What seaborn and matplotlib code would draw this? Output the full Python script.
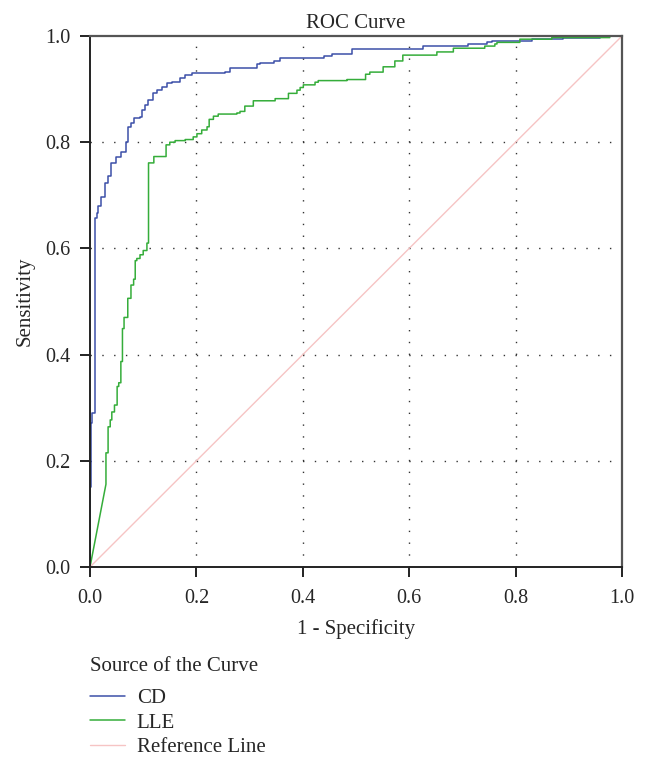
import numpy as np
import pandas as pd
import matplotlib
matplotlib.use('Agg')
import matplotlib.pyplot as plt
import seaborn as sns

# Curva CD: (1 - especificidad donde sube, sensibilidad tras el salto)
cd_fpr = [0.0, 0.001, 0.004, 0.010, 0.013, 0.015, 0.020, 0.028, 0.034, 0.039,
          0.048, 0.058, 0.067, 0.071, 0.077, 0.082, 0.094, 0.098, 0.103, 0.109,
          0.119, 0.125, 0.136, 0.144, 0.155, 0.169, 0.179, 0.191, 0.254, 0.263,
          0.313, 0.320, 0.346, 0.357, 0.439, 0.454, 0.492, 0.625, 0.711, 0.746,
          0.755, 0.830, 0.889, 0.958, 1.0]
cd_tpr = [0.150, 0.272, 0.290, 0.657, 0.667, 0.680, 0.697, 0.723, 0.737, 0.761,
          0.773, 0.782, 0.801, 0.828, 0.837, 0.845, 0.847, 0.861, 0.870, 0.879,
          0.892, 0.898, 0.904, 0.911, 0.914, 0.920, 0.927, 0.930, 0.933, 0.940,
          0.947, 0.950, 0.953, 0.958, 0.962, 0.966, 0.975, 0.981, 0.984, 0.988,
          0.990, 0.994, 0.997, 1.0, 1.0]

# Curva LLE (empieza con un tramo diagonal por empates)
lle_fpr = [0.030, 0.034, 0.038, 0.041, 0.046, 0.051, 0.054, 0.058, 0.061, 0.064,
           0.071, 0.077, 0.082, 0.085, 0.088, 0.094, 0.100, 0.107, 0.110, 0.120,
           0.143, 0.150, 0.160, 0.179, 0.194, 0.201, 0.210, 0.220, 0.224, 0.232,
           0.241, 0.276, 0.282, 0.291, 0.307, 0.348, 0.373, 0.389, 0.395, 0.401,
           0.423, 0.429, 0.483, 0.518, 0.526, 0.551, 0.573, 0.588, 0.652, 0.683,
           0.742, 0.761, 0.765, 0.808, 0.868, 0.977, 1.0]
lle_tpr = [0.215, 0.264, 0.277, 0.292, 0.305, 0.340, 0.347, 0.387, 0.449, 0.470,
           0.506, 0.531, 0.542, 0.577, 0.581, 0.588, 0.596, 0.610, 0.761, 0.773,
           0.795, 0.800, 0.803, 0.805, 0.810, 0.816, 0.823, 0.829, 0.843, 0.849,
           0.853, 0.855, 0.858, 0.868, 0.878, 0.882, 0.892, 0.898, 0.903, 0.908,
           0.913, 0.916, 0.918, 0.928, 0.932, 0.942, 0.953, 0.964, 0.970, 0.977,
           0.981, 0.985, 0.988, 0.994, 0.997, 1.0, 1.0]

ticks = [0.0, 0.2, 0.4, 0.6, 0.8, 1.0]
tick_labels = ['0.0', '0.2', '0.4', '0.6', '0.8', '1.0']


def escalones(fpr, tpr, x0, y0):
    # convierte los saltos en vertices de la curva escalonada
    xs, ys = [0.0, x0], [0.0, y0]
    for x, y in zip(fpr, tpr):
        xs += [x, x]
        ys += [ys[-1], y]
    return xs, ys


cd_x, cd_y = escalones(cd_fpr, cd_tpr, 0.0, cd_tpr[0])
lle_x, lle_y = escalones(lle_fpr, lle_tpr, lle_fpr[0], 0.156)

sns.set_style('white')
plt.rcParams['font.family'] = ['Liberation Serif', 'DejaVu Serif']

fig = plt.figure(figsize=(6.46, 7.6), dpi=100)
ax = fig.add_axes([90/646, 1-567/760, 532/646, 531/760])

sns.lineplot(x=cd_x, y=cd_y, sort=False, estimator=None, color='#3c4fa8',
             lw=1.1, ax=ax, label='CD', legend=False)
sns.lineplot(x=lle_x, y=lle_y, sort=False, estimator=None, color='#35ad3a',
             lw=1.1, ax=ax, label='LLE', legend=False)
sns.lineplot(x=[0, 1], y=[0, 1], color='#f6c4c4', lw=1.0, ax=ax,
             label='Reference Line', legend=False)

ax.set_xlim(0, 1)
ax.set_ylim(0, 1)
ax.set_xticks(ticks)
ax.set_xticklabels(tick_labels)
ax.set_yticks(ticks)
ax.set_yticklabels(tick_labels)
ax.tick_params(direction='out', length=7, width=1.4, pad=7, labelsize=14.5,
               color='#222222', bottom=True, left=True)
ax.tick_params(axis='x', pad=9)
for v in ticks[1:-1]:
    ax.axvline(v, color='#333333', lw=1.0, ls=(0, (1, 7.5)), zorder=0)
    ax.axhline(v, color='#333333', lw=1.0, ls=(0, (1, 7.5)), zorder=0)
for s in ['left', 'bottom']:
    ax.spines[s].set_color('#222222')
    ax.spines[s].set_linewidth(1.4)
for s in ['top', 'right']:
    ax.spines[s].set_color('#555555')
    ax.spines[s].set_linewidth(1.6)

ax.set_title('ROC Curve', fontsize=15, pad=6)
ax.set_xlabel('1 - Specificity', fontsize=15, labelpad=8)
ax.set_ylabel('Sensitivity', fontsize=15, labelpad=8)

leg = fig.legend(loc='upper left', bbox_to_anchor=(71/646, 1-638/760),
                 frameon=False, title='Source of the Curve', fontsize=15,
                 title_fontsize=15, alignment='left', handlelength=1.7,
                 labelspacing=0.25, handletextpad=0.55)
leg._legend_box.sep = 9

fig.savefig('out.png', dpi=100)
